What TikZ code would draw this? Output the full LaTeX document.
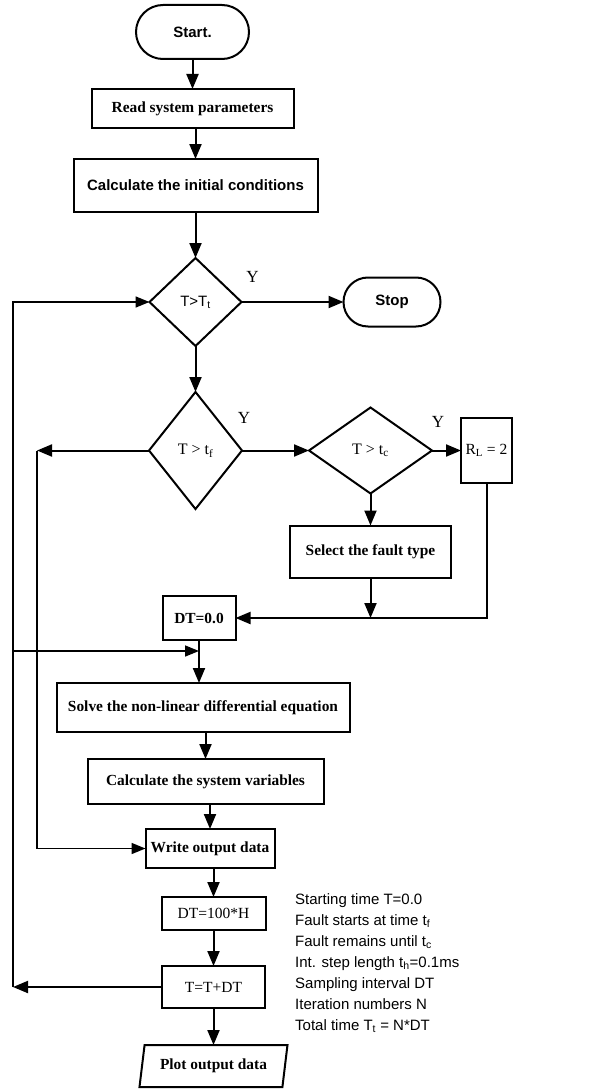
\documentclass[tikz,border=0pt]{standalone}
\usepackage{fontspec}
\setmainfont{Liberation Serif}
\setsansfont{Liberation Sans}
\usetikzlibrary{arrows.meta, positioning, shapes.geometric, shapes.misc, calc}

\begin{document}
\begin{tikzpicture}[
  x=1pt, y=1pt,
  base/.style={draw, line width=2pt, inner sep=1pt, outer sep=0pt, align=center},
  box/.style={base, rectangle, font=\fontsize{15.4}{18}\selectfont\bfseries},
  plain/.style={base, rectangle, font=\fontsize{15.5}{18}\selectfont},
  sbox/.style={base, rectangle, font=\fontsize{15}{18}\selectfont\sffamily\bfseries},
  term/.style={base, rounded rectangle, font=\fontsize{15}{18}\selectfont\sffamily\bfseries},
  dec/.style={base, diamond, inner sep=0pt, font=\fontsize{16}{18}\selectfont},
  io/.style={base, trapezium, trapezium left angle=70, trapezium right angle=110,
             trapezium stretches body, inner sep=0pt, font=\fontsize{15.4}{18}\selectfont\bfseries},
  arr/.style={-{Triangle[length=15pt,width=12pt]}, line width=2pt},
  loop/.style={-{Triangle[length=14pt,width=11pt]}, line width=1.6pt},
  ylab/.style={font=\fontsize{17}{18}\selectfont},
  note/.style={align=left, inner sep=0pt, font=\fontsize{15}{21}\selectfont\sffamily},
]
  \useasboundingbox (0,0) rectangle (592,-1089);

  \node[term, minimum width=115pt, minimum height=54pt] (start) at (192.5,-32) {Start.};
  \node[box, minimum width=202pt, minimum height=39pt, below=30pt of start] (read) {Read system parameters};
  \node[sbox, minimum width=244pt, minimum height=53pt, below=31pt of read, xshift=3pt] (init)
        {Calculate the initial conditions};

  \node[dec, font=\fontsize{15}{18}\selectfont\sffamily, minimum width=92pt, minimum height=88pt,
        below=46pt of init] (tmax) {T>T\textsubscript{t}};
  \node[term, minimum width=99pt, minimum height=49pt, right=102pt of tmax] (stop) {Stop};

  \node[dec, minimum width=93pt, minimum height=117pt, below=46pt of tmax] (tf) {T > t\textsubscript{f}};
  \node[dec, minimum width=123pt, minimum height=86pt, right=67pt of tf] (tc) {T > t\textsubscript{c}};
  \node[plain, minimum width=51pt, minimum height=65pt, right=29pt of tc] (rl) {R\textsubscript{L} = 2};
  \node[box, minimum width=161pt, minimum height=52pt, below=32pt of tc] (fault) {Select the fault type};

  \node[box, minimum width=73pt, minimum height=44pt, below=87pt of tf, xshift=3.5pt] (dtzero) {DT=0.0};
  \node[box, minimum width=293pt, minimum height=49pt, below=43pt of dtzero, xshift=4pt] (solve)
        {Solve the non-linear differential equation};
  \node[box, minimum width=236pt, minimum height=45pt, below=27pt of solve, xshift=2.5pt] (sysvar)
        {Calculate the system variables};
  \node[box, minimum width=129pt, minimum height=39pt, below=25pt of sysvar, xshift=4.5pt] (write) {Write output data};
  \node[plain, minimum width=104pt, minimum height=33pt, below=29pt of write, xshift=3.5pt] (dtstep) {DT=100*H};
  \node[plain, minimum width=103pt, minimum height=42pt, below=36pt of dtstep] (tnext) {T=T+DT};
  \node[io, minimum width=148pt, minimum height=42pt, below=37pt of tnext] (plot) {Plot output data};

  \node[note, anchor=north west] (notes) at (295,-893)
        {Starting time T=0.0\\
         Fault starts at time t\textsubscript{f}\\
         Fault remains until t\textsubscript{c}\\
         Int. step length t\textsubscript{h}=0.1ms\\
         Sampling interval DT\\
         Iteration numbers N\\
         Total time T\textsubscript{t} = N*DT};

  \node[ylab] (y1) at ($(tmax.east)+(11,25)$) {Y};
  \node[ylab] (y2) at ($(tf.east)+(2,33)$)    {Y};
  \node[ylab] (y3) at ($(tc.east)+(6,29)$)    {Y};

  \coordinate (lft) at (13,0);
  \coordinate (inn) at (37,0);
  \coordinate (lb)  at (13,-651);

  \draw[arr] (start.south -| read.north) -- (read.north);
  \draw[arr] (read.south) -- (read.south -| init.north) -- (init.north);
  \draw[arr] (init.south) -- (tmax.north);
  \draw[arr] (tmax.east) -- (stop.west);
  \draw[arr] (tmax.south) -- (tf.north);
  \draw[arr] (tf.east) -- (tf.east -| tc.west);
  \draw[arr] (tc.east) -- (tc.east -| rl.west);
  \draw[arr] (tc.south) -- (tc.south |- fault.north);
  \draw[arr] (rl.south) |- (dtzero.east);
  \draw[arr] (fault.south) -- (fault.south |- dtzero.east);
  \draw[arr] (dtzero.south) -- (dtzero.south |- solve.north);
  \draw[arr] (solve.south -| sysvar.north) -- (sysvar.north);
  \draw[arr] (sysvar.south -| write.north) -- (write.north);
  \draw[arr] (write.south -| dtstep.north) -- (dtstep.north);
  \draw[arr] (dtstep.south) -- (tnext.north);
  \draw[arr] (tnext.south) -- (tnext.south |- plot.north);

  \draw[arr]  (tf.west) -- (tf.west -| inn);
  \draw[loop] (tf.west -| inn) |- (write.west);
  \draw[arr]  (tnext.west) -- (tnext.west -| lft);
  \draw[loop] (tnext.west -| lft) |- (tmax.west);
  \draw[loop] (lb) -- (lb -| dtzero.south);
\end{tikzpicture}
\end{document}
